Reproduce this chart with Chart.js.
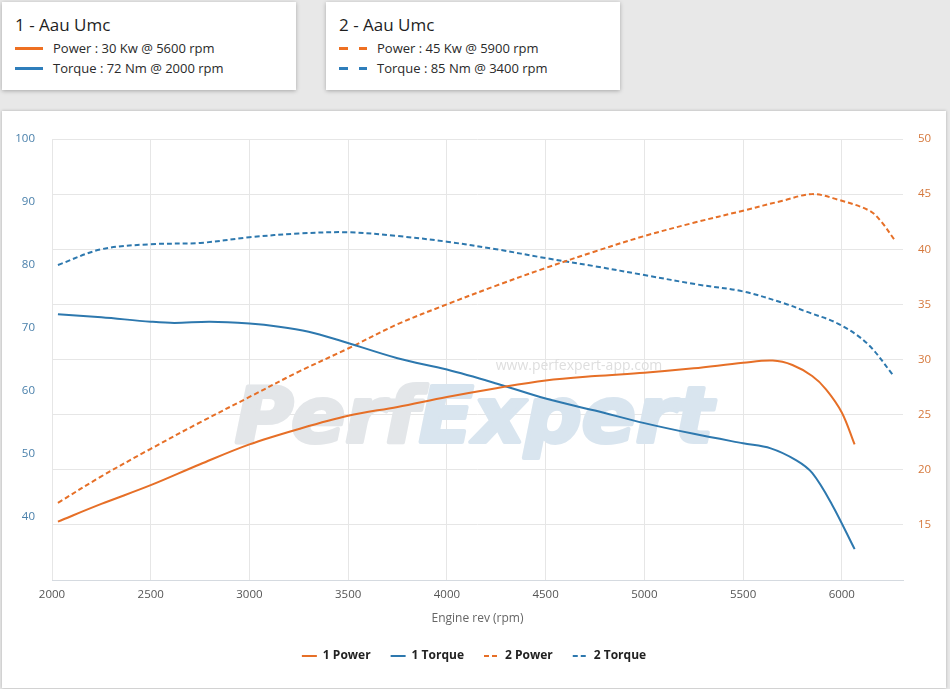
<!DOCTYPE html>
<html>
<head>
<meta charset="utf-8">
<script src="https://cdn.jsdelivr.net/npm/chart.js@4.4.0/dist/chart.umd.min.js"></script>
<style>
  body { margin: 0; width: 950px; height: 689px; overflow: hidden; background: #e8e8e8; font-family: "Open Sans", sans-serif; position: relative; }
  .card { position: absolute; top: 2px; width: 294px; height: 88px; background: #fff; box-shadow: 0 1px 4px rgba(0,0,0,0.28); }
  .card h3 { margin: 0; position: absolute; left: 13px; top: 11px; font-size: 17px; font-weight: normal; color: #1e1e1e; }
  .row { position: absolute; left: 13px; font-size: 13px; color: #2a2a2a; line-height: 16px; white-space: nowrap; }
  .sw { display: inline-block; width: 28px; height: 3px; vertical-align: middle; margin: -2px 10px 0 0; }
  #panel { position: absolute; left: 2px; top: 111px; width: 944px; height: 577px; background: #fff; box-shadow: 0 0 3px rgba(0,0,0,0.25); }
</style>
</head>
<body>
<div class="card" style="left:2px">
  <h3>1 - Aau Umc</h3>
  <div class="row" style="top:38px"><span class="sw" style="background:#ee7022"></span>Power : 30 Kw @ 5600 rpm</div>
  <div class="row" style="top:58px"><span class="sw" style="background:#2e7ebb"></span>Torque : 72 Nm @ 2000 rpm</div>
</div>
<div class="card" style="left:326px">
  <h3>2 - Aau Umc</h3>
  <div class="row" style="top:38px"><span class="sw" style="background:linear-gradient(to right,#ee7022 0 9px,transparent 9px 20px,#ee7022 20px 29px)"></span>Power : 45 Kw @ 5900 rpm</div>
  <div class="row" style="top:58px"><span class="sw" style="background:linear-gradient(to right,#2e7ebb 0 9px,transparent 9px 20px,#2e7ebb 20px 29px)"></span>Torque : 85 Nm @ 3400 rpm</div>
</div>
<div id="panel"><canvas id="myChart" width="944" height="576"></canvas></div>

<script>
// rpm / values
const rpm1Power = [2030, 2250, 2500, 2750, 3000, 3250, 3500, 3750, 4000, 4250, 4500, 4750, 5000, 5250, 5500, 5650, 5750, 5850, 5920, 6000, 6065];
const power1 = [15.3, 16.9, 18.6, 20.5, 22.3, 23.7, 24.9, 25.7, 26.6, 27.4, 28.1, 28.5, 28.8, 29.2, 29.7, 29.9, 29.5, 28.5, 27.3, 25.2, 22.3];

const rpm1Torque = [2030, 2250, 2500, 2620, 2800, 3000, 3150, 3300, 3450, 3750, 4000, 4250, 4500, 4750, 5000, 5250, 5500, 5640, 5770, 5850, 5950, 6065];
const torque1 = [72.2, 71.7, 71.0, 70.8, 71.0, 70.7, 70.2, 69.4, 68.1, 65.2, 63.4, 61.2, 58.8, 56.9, 54.9, 53.2, 51.7, 50.9, 49.0, 47.0, 42.0, 34.9];

const rpm2Power = [2030, 2250, 2500, 2750, 3000, 3250, 3500, 3750, 4000, 4250, 4500, 4750, 5000, 5250, 5500, 5700, 5850, 5980, 6140, 6200, 6265];
const power2 = [17.0, 19.4, 21.9, 24.3, 26.6, 28.9, 31.0, 33.2, 35.0, 36.7, 38.3, 39.8, 41.2, 42.4, 43.5, 44.4, 45.0, 44.5, 43.5, 42.5, 40.9];

const rpm2Torque = [2030, 2250, 2500, 2750, 3000, 3250, 3500, 3750, 4000, 4250, 4500, 4750, 5000, 5270, 5500, 5710, 5820, 5980, 6130, 6265];
const torque2 = [80.0, 82.5, 83.3, 83.5, 84.4, 85.0, 85.2, 84.6, 83.7, 82.5, 81.1, 79.8, 78.4, 76.9, 75.8, 73.9, 72.6, 70.7, 67.5, 62.3];

const rpmTicks = [2000, 2500, 3000, 3500, 4000, 4500, 5000, 5500, 6000];

const seriesLabels = ['1 Power', '1 Torque', '2 Power', '2 Torque'];

const orange = '#e66f27';
const blue = '#2d78ae';

function toPoints(xs, ys) {
    return xs.map((x, i) => ({ x: x, y: ys[i] }));
}

// faint logo behind the curves
const watermark = {
    id: 'watermark',
    beforeDatasetsDraw(chart) {
        const ctx = chart.ctx;
        ctx.save();
        ctx.font = 'italic bold 76px "DejaVu Sans"';
        const w1 = ctx.measureText('Perf').width;
        const w2 = ctx.measureText('Expert').width;
        const sx = 478 / (w1 + w2);
        ctx.translate(233, 311);
        ctx.scale(sx, 1);
        ctx.lineWidth = 4;
        ctx.lineJoin = 'round';
        ctx.fillStyle = ctx.strokeStyle = '#e3e6e9';
        ctx.fillText('Perf', 0, 0);
        ctx.strokeText('Perf', 0, 0);
        ctx.fillStyle = ctx.strokeStyle = '#d9e5ef';
        ctx.fillText('Expert', w1, 0);
        ctx.strokeText('Expert', w1, 0);
        ctx.restore();
        ctx.save();
        ctx.font = '14px "Open Sans"';
        ctx.fillStyle = '#dedede';
        ctx.textAlign = 'center';
        ctx.textBaseline = 'middle';
        ctx.fillText('www.perfexpert-app.com', 577, 255);
        ctx.restore();
    }
};

function makeSet(label, xs, ys, color, axis, dashed) {
    return {
        label: label,
        data: toPoints(xs, ys),
        yAxisID: axis,
        borderColor: color,
        backgroundColor: color,
        borderWidth: 2,
        borderDash: dashed ? [5, 3] : [],
        pointRadius: 0,
        pointStyle: 'line',
        fill: false,
        tension: 0.35
    };
}

function init() {
    const ctx = document.getElementById('myChart').getContext('2d');
    new Chart(ctx, {
        type: 'line',
        data: {
            datasets: [
                makeSet(seriesLabels[0], rpm1Power, power1, orange, 'yP', false),
                makeSet(seriesLabels[1], rpm1Torque, torque1, blue, 'yT', false),
                makeSet(seriesLabels[2], rpm2Power, power2, orange, 'yP', true),
                makeSet(seriesLabels[3], rpm2Torque, torque2, blue, 'yT', true)
            ]
        },
        options: {
            responsive: false,
            animation: false,
            layout: { padding: { top: 28, bottom: 15, left: 0, right: 0 } },
            plugins: {
                tooltip: { enabled: false },
                legend: {
                    position: 'bottom',
                    labels: {
                        usePointStyle: true,
                        pointStyleWidth: 15,
                        boxHeight: 8,
                        padding: 20,
                        color: '#222',
                        font: { family: '"Open Sans"', size: 12, weight: 'bold' },
                        generateLabels: chart => {
                            const items = Chart.defaults.plugins.legend.labels.generateLabels(chart);
                            items.forEach(it => {
                                const ds = chart.data.datasets[it.datasetIndex];
                                it.lineDash = ds.borderDash;
                                it.strokeStyle = ds.borderColor;
                                it.lineWidth = 2;
                            });
                            return items;
                        }
                    }
                }
            },
            scales: {
                x: {
                    type: 'linear',
                    min: 2000,
                    max: 6310,
                    afterFit: s => { s.height = 50; },
                    afterBuildTicks: s => { s.ticks = rpmTicks.map(v => ({ value: v })); },
                    ticks: {
                        padding: 8, color: '#555',
                        font: { family: '"Open Sans"', size: 11.5 },
                        callback: v => String(v)
                    },
                    grid: { color: '#e6e6e6', drawTicks: false },
                    border: { color: '#d5dae0' },
                    title: { display: true, text: 'Engine rev (rpm)', color: '#666', padding: { top: 4, bottom: 4 }, font: { family: '"Open Sans"', size: 12 } }
                },
                yT: {
                    position: 'left',
                    min: 30,
                    max: 100,
                    afterFit: s => { s.width = 50; },
                    ticks: {
                        stepSize: 10, padding: 17, color: '#4a80ab',
                        font: { family: '"Open Sans"', size: 11.5 },
                        callback: v => v === 30 ? '' : v
                    },
                    grid: { display: false, drawTicks: false },
                    border: { display: false }
                },
                yP: {
                    position: 'right',
                    min: 10,
                    max: 50,
                    afterFit: s => { s.width = 43; },
                    ticks: {
                        stepSize: 5, padding: 15, color: '#d5783c',
                        font: { family: '"Open Sans"', size: 11.5 },
                        callback: v => v === 10 ? '' : v
                    },
                    grid: { color: '#e6e6e6', drawTicks: false },
                    border: { display: false }
                }
            }
        },
        plugins: [watermark]
    });
}

document.addEventListener('DOMContentLoaded', init);
</script>
</body>
</html>
